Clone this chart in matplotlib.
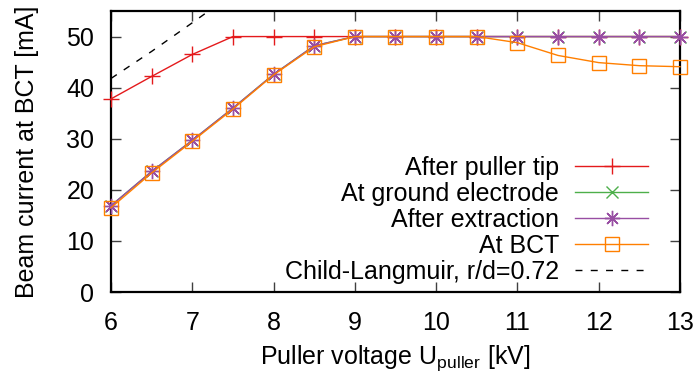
import matplotlib
matplotlib.use("Agg")
import matplotlib.pyplot as plt

plt.rcParams['font.family'] = ['Liberation Sans', 'DejaVu Sans']
plt.rcParams['mathtext.fontset'] = 'custom'
plt.rcParams['mathtext.rm'] = 'Liberation Sans'

# puller voltage [kV]
voltage = [6.0, 6.5, 7.0, 7.5, 8.0, 8.5, 9.0, 9.5, 10.0, 10.5, 11.0, 11.5, 12.0, 12.5, 13.0]

# beam current [mA]
after_tip = [37.8, 42.2, 46.5, 50.0, 50.0, 50.0, 50.0, 50.0, 50.0, 50.0, 50.0, 50.0, 50.0, 50.0, 50.0]
at_ground = [16.9, 23.6, 29.7, 36.0, 42.6, 48.2, 50.0, 50.0, 50.0, 50.0, 50.0, 50.0, 50.0, 50.0, 50.0]
after_extr = [16.9, 23.6, 29.7, 36.0, 42.6, 48.2, 50.0, 50.0, 50.0, 50.0, 50.0, 50.0, 50.0, 50.0, 50.0]
at_bct = [16.5, 23.3, 29.5, 35.8, 42.5, 48.0, 50.0, 50.0, 50.0, 50.0, 48.8, 46.3, 44.9, 44.3, 44.1]

# Child-Langmuir limit, r/d = 0.72
cl_voltage = [6.0, 6.5, 7.0, 7.5]
cl_current = [41.8, 47.1, 52.7, 58.4]

fs = 18

fig = plt.figure(figsize=(7.0, 3.76), dpi=100)
ax = fig.add_axes([0.1586, 0.2234, 0.8128, 0.7473])

ax.plot(voltage, after_tip, color='#e41a1c', lw=1.0, marker='+', ms=11, mew=1.0,
        label='After puller tip', clip_on=False, zorder=3)
ax.plot(voltage, at_ground, color='#4daf4a', lw=1.0, marker='x', ms=9, mew=1.0,
        label='At ground electrode', clip_on=False, zorder=3)
ax.plot(voltage, after_extr, color='#984ea3', lw=1.0, marker=(8, 2, 0), ms=11, mew=1.0,
        label='After extraction', clip_on=False, zorder=3)
ax.plot(voltage, at_bct, color='#ff7f00', lw=1.0, marker='s', ms=10, mew=1.0, mfc='none',
        label='At BCT', clip_on=False, zorder=3)
ax.plot(cl_voltage, cl_current, color='black', lw=1.0, ls=(0, (5, 6)),
        label='Child-Langmuir, r/d=0.72', zorder=3)

ax.set_xlim(6, 13)
ax.set_ylim(0, 55)
ax.set_xticks(range(6, 14))
ax.set_yticks(range(0, 51, 10))
ax.tick_params(direction='in', length=7, width=1.0, color='#404040',
               top=True, right=True, labelsize=fs)
ax.tick_params(axis='x', pad=14)
ax.tick_params(axis='y', pad=12)
for sp in ax.spines.values():
    sp.set_linewidth(1.6)

ax.set_xlabel('Puller voltage U$_{\\mathregular{puller}}$ [kV]', fontsize=fs, labelpad=6)
ax.set_ylabel('Beam current at BCT [mA]', fontsize=fs, labelpad=20)

leg = ax.legend(loc='upper right', bbox_to_anchor=(0.961, 0.52), markerfirst=False,
                frameon=False, fontsize=fs, handlelength=2.9, handletextpad=0.65,
                labelspacing=0.08, borderaxespad=0)
for t in leg.get_texts():
    t.set_ha('right')

fig.savefig('out.png', dpi=100)
